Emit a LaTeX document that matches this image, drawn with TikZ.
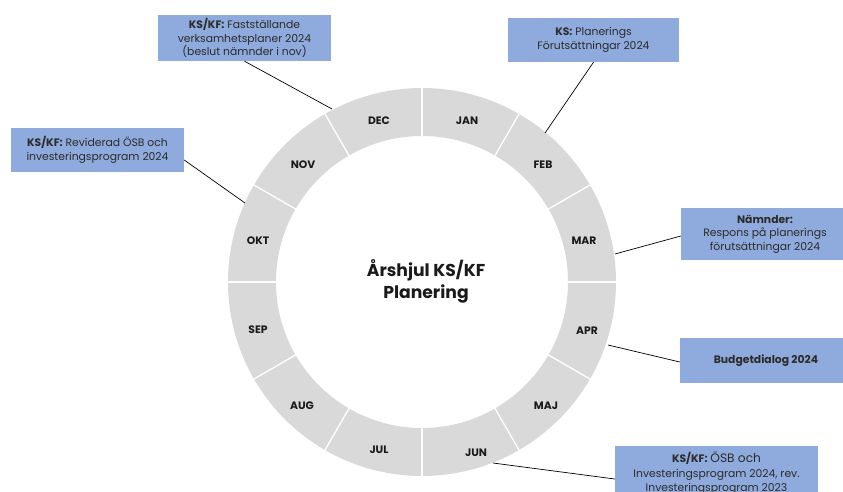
\documentclass[tikz,border=0pt]{standalone}
\usepackage{fontspec}
\setmainfont{Poppins}
\usetikzlibrary{calc}
\definecolor{ringgray}{HTML}{D9D9D9}
\definecolor{boxblue}{HTML}{8FAADC}
\definecolor{txt}{HTML}{1A1A1A}
\definecolor{txtgray}{HTML}{2B2B2B}
\begin{document}
\begin{tikzpicture}[x=1pt,y=-1pt,
  box/.style={fill=boxblue, text=txtgray, align=center, inner sep=0pt, font=\fontsize{10.8}{13.5}\selectfont},
  month/.style={font=\bfseries\fontsize{10.8}{12}\selectfont, text=txt},
  conn/.style={draw=black, line width=0.7pt}]
\useasboundingbox (0,0) rectangle (843,492);
\clip (0,0) rectangle (843,492);
\coordinate (c) at (422,282);
\fill[ringgray, even odd rule] (c) circle[radius=194] (c) circle[radius=146];
\foreach \a in {0,30,...,330} \draw[white, line width=1.3pt] ($(c)+(\a:144)$) -- ($(c)+(\a:196)$);
% months
\node[month] (jan) at (467,121) {JAN};
\node[month] (feb) at (543,165) {FEB};
\node[month] (mar) at (584,241) {MAR};
\node[month] (apr) at (587,331) {APR};
\node[month] (maj) at (546,406) {MAJ};
\node[month] (jun) at (476,453) {JUN};
\node[month] (jul) at (379,450) {JUL};
\node[month] (aug) at (302,406) {AUG};
\node[month] (sep) at (258,330) {SEP};
\node[month] (okt) at (258,241) {OKT};
\node[month] (nov) at (303,165) {NOV};
\node[month] (dec) at (379,121) {DEC};
% title
\node[font=\bfseries\fontsize{17.2}{22}\selectfont, text=txt, align=center] (title) at (426,281) {Årshjul KS/KF\\Planering};
% boxes
\node[box, minimum width=173pt, minimum height=46pt] (b1) at (244.5,38) {\textbf{KS/KF:} Fastställande\\verksamhetsplaner 2024\\(beslut nämnder i nov)};
\node[box, minimum width=171pt, minimum height=44pt] (b2) at (593.5,40) {\textbf{KS:} Planerings\\Förutsättningar 2024};
\node[box, minimum width=173pt, minimum height=44pt] (b3) at (97.5,150) {\textbf{KS/KF:} Reviderad ÖSB och\\investeringsprogram 2024};
\node[box, minimum width=168pt, minimum height=52pt] (b4) at (765,234) {\textbf{Nämnder:}\\Respons på planerings\\förutsättningar 2024};
\node[box, minimum width=172pt, minimum height=45pt] (b5) at (766,360.5) {\textbf{Budgetdialog 2024}};
\node[box, font=\fontsize{10.8}{14.5}\selectfont, minimum width=203pt, minimum height=54pt, anchor=north] (b6) at (716.5,446) {\textbf{KS/KF:} {\fontsize{12.2}{14.5}\selectfont ÖSB och}\\Investeringsprogram 2024, rev.\\Investeringsprogram 2023};
% connector ends on the ring
\coordinate (e1) at (332,109);
\coordinate (e2) at (545,133);
\coordinate (e3) at (245,203);
\coordinate (e4) at (615,254);
\coordinate (e5) at (608,345);
\coordinate (e6) at (493,463);
\draw[conn] (b1.south) -- (e1);
\draw[conn] (b2.south) -- (e2);
\draw[conn] ($(b3.east)+(0,10)$) -- (e3);
\draw[conn] (e4) -- ($(b4.west)+(0,2)$);
\draw[conn] (e5) -- ($(b5.west)+(0,1.5)$);
\draw[conn] (e6) -- ($(b6.north west)+(0,33)$);
\end{tikzpicture}
\end{document}
